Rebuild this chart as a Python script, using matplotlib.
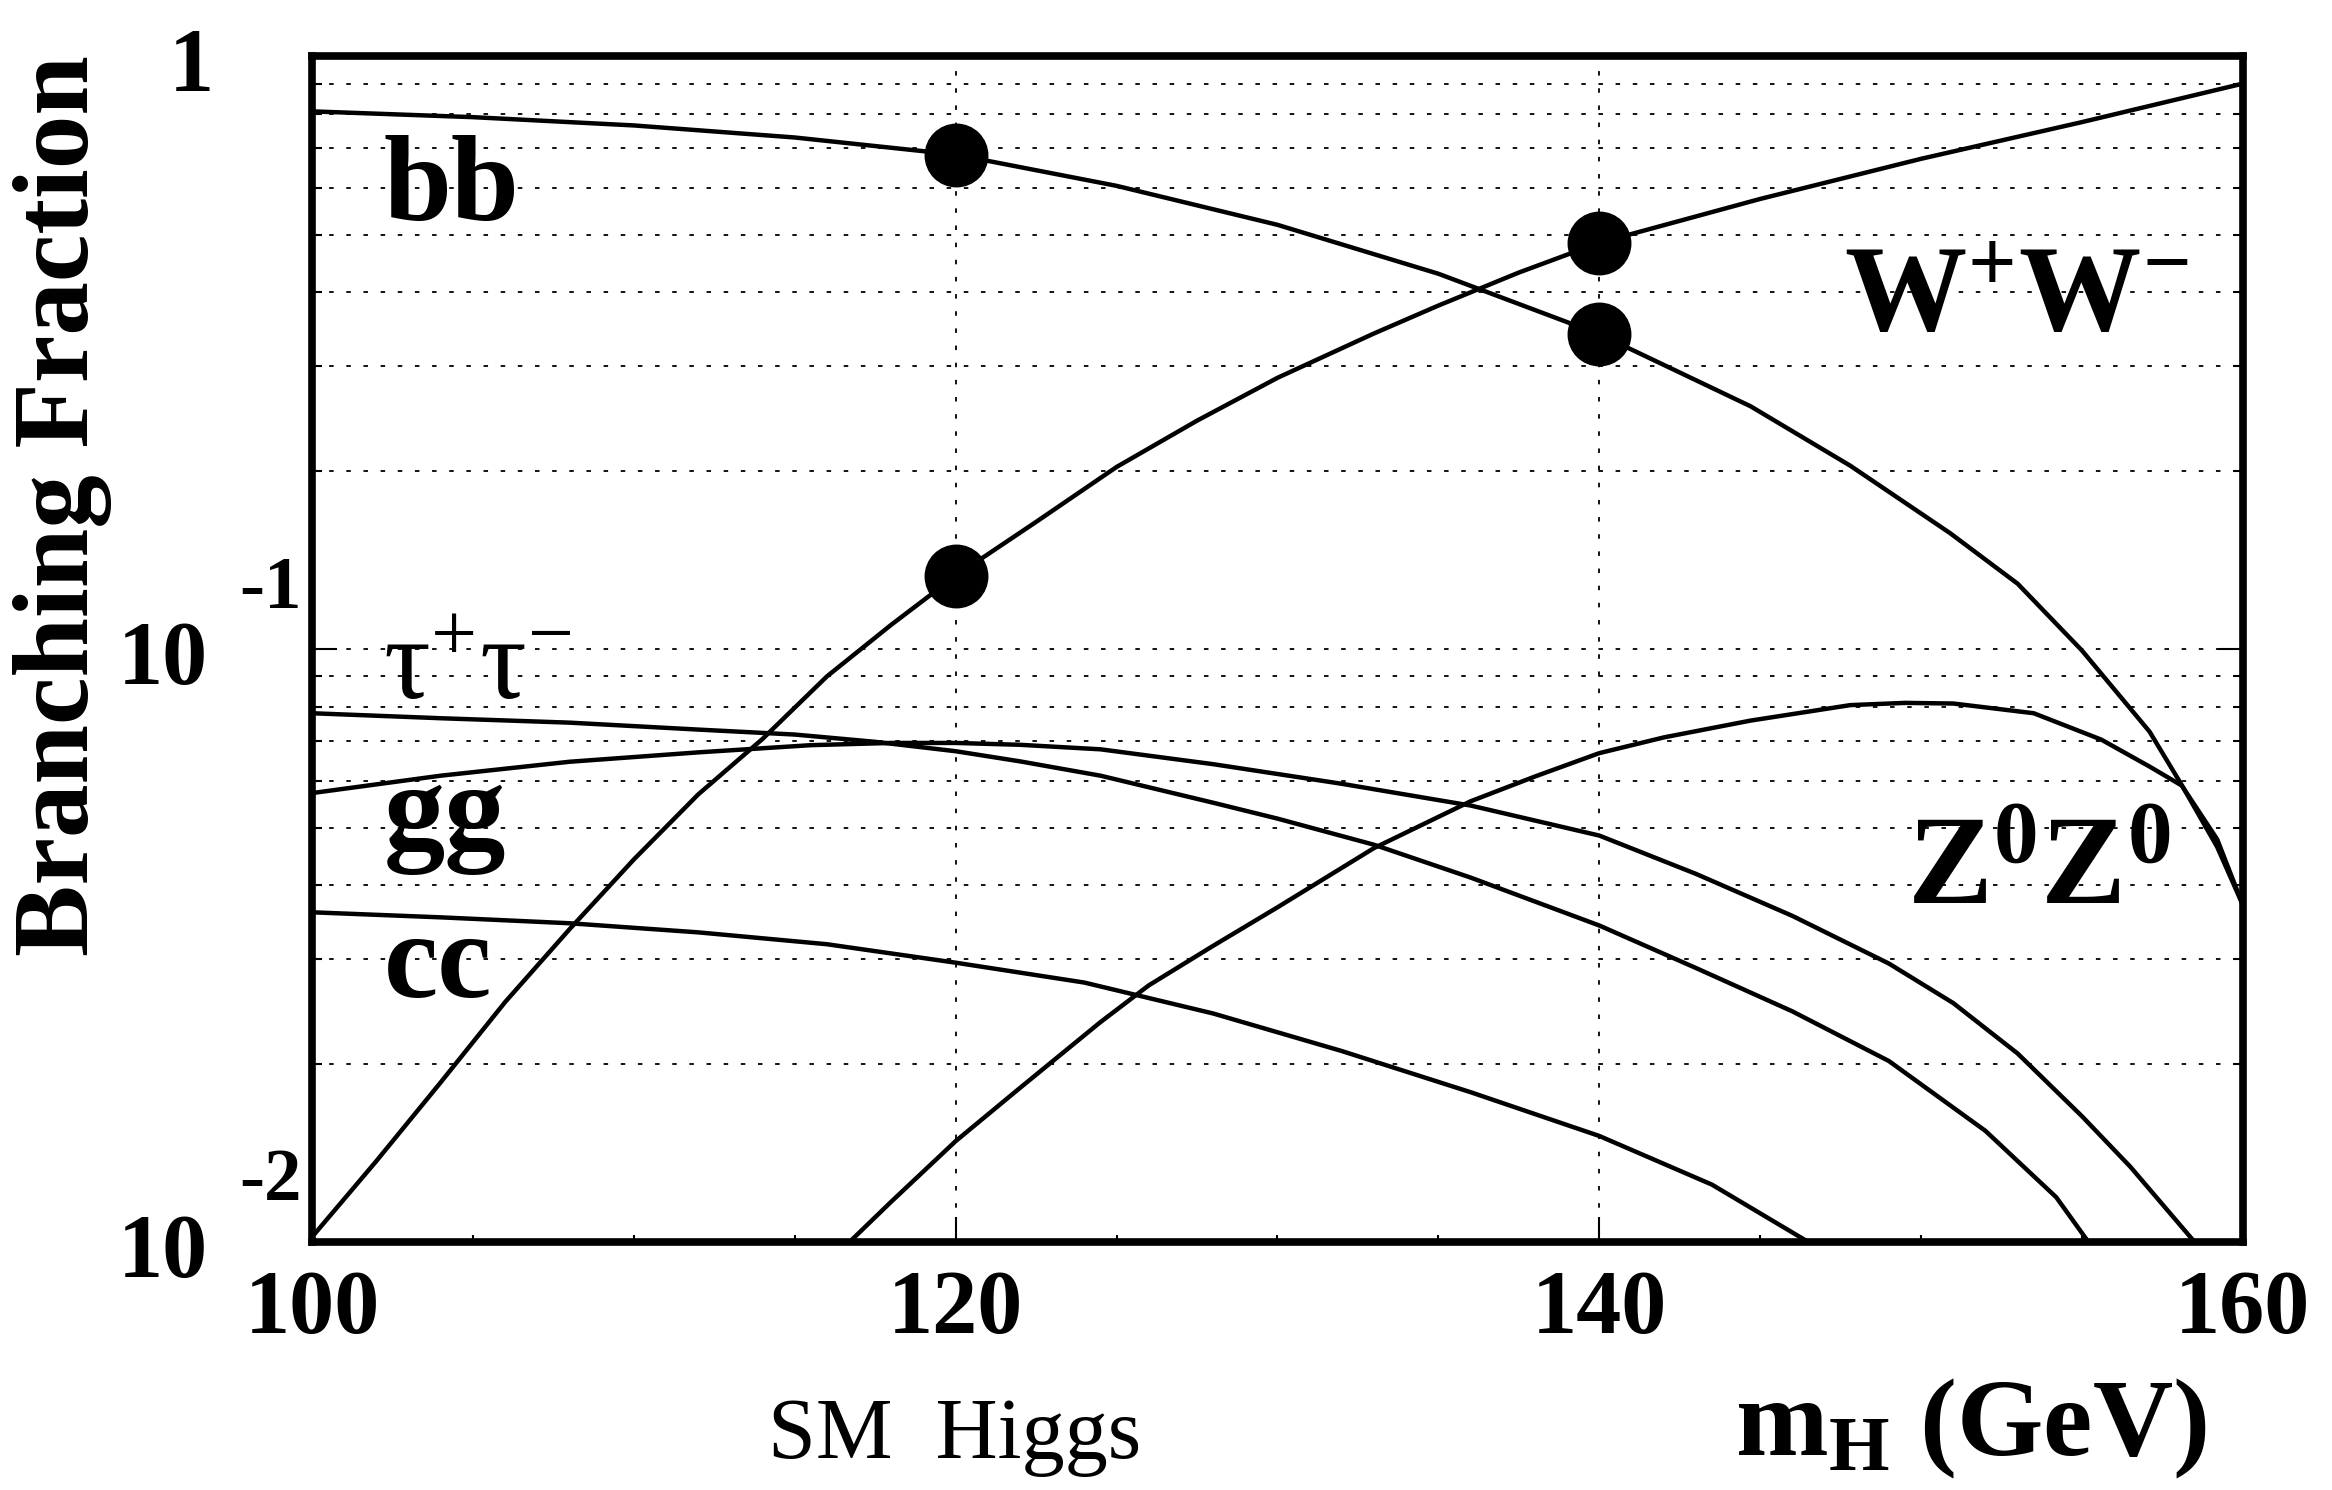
import matplotlib
matplotlib.use("Agg")
import matplotlib.pyplot as plt
import matplotlib.transforms as mtransforms
from matplotlib.ticker import FixedLocator, NullFormatter

# ---------------------------------------------------------------
# data (SM Higgs branching fractions)
# ---------------------------------------------------------------
bb_mass = [100, 105, 110, 115, 120, 125, 130, 135, 140, 142.5, 144.7, 147.8,
           150.9, 153, 155, 157.1, 158.1, 159.2, 160]
bb_br = [0.808, 0.79, 0.765, 0.73, 0.683, 0.605, 0.52, 0.43, 0.34, 0.293,
         0.257, 0.204, 0.157, 0.129, 0.0995, 0.0726, 0.059, 0.0464, 0.037]

ww_mass = [100, 102, 104, 106, 108, 110, 112, 114, 116, 118, 120, 122.5,
           125, 127.5, 130, 133, 135, 137.5, 140, 145, 150, 155, 160]
ww_br = [0.0102, 0.0137, 0.0186, 0.0254, 0.0337, 0.0442, 0.0569, 0.0706,
         0.090, 0.110, 0.133, 0.164, 0.203, 0.243, 0.287, 0.341, 0.38, 0.432,
         0.485, 0.575, 0.672, 0.775, 0.90]

zz_mass = [116.7, 118, 120, 122, 124.5, 126, 128, 130, 133, 136, 138, 140,
           142, 144.7, 147.8, 149.5, 151, 153.5, 155.6, 157.1, 158.1, 159.2,
           160]
zz_br = [0.0100, 0.0117, 0.0148, 0.0182, 0.0235, 0.0271, 0.0316, 0.0367,
         0.0462, 0.0554, 0.061, 0.0668, 0.071, 0.0758, 0.0805, 0.0812, 0.081,
         0.078, 0.0704, 0.0634, 0.0589, 0.0478, 0.037]

tautau_mass = [100, 104, 108, 112, 115, 117.5, 120, 122, 124.5, 128, 130, 133,
               136, 140, 143, 146, 149, 152, 154.2, 155.2]
tautau_br = [0.078, 0.0765, 0.0752, 0.0732, 0.0718, 0.0698, 0.0673, 0.0647,
             0.0612, 0.0551, 0.0518, 0.0468, 0.0412, 0.0342, 0.029, 0.0245,
             0.0202, 0.0154, 0.0119, 0.0100]

gg_mass = [100, 104, 108, 112, 115.5, 118, 120, 122, 124.5, 128, 132, 136,
           140, 143, 146, 149, 151, 153, 155, 156.5, 158.5]
gg_br = [0.0572, 0.0612, 0.0646, 0.067, 0.0689, 0.0695, 0.0695, 0.069,
         0.0678, 0.064, 0.0593, 0.0545, 0.0485, 0.0418, 0.0355, 0.0295,
         0.0253, 0.0208, 0.0163, 0.0134, 0.0100]

cc_mass = [100, 104, 108, 112, 116, 120, 124, 128, 132, 136, 140, 143.5, 146.5]
cc_br = [0.0360, 0.0353, 0.0345, 0.0333, 0.0318, 0.0296, 0.0274, 0.0243,
         0.0210, 0.0179, 0.0151, 0.0125, 0.0100]

# highlighted points at 120 and 140 GeV
dot_mass = [120, 120, 140, 140]
dot_br = [0.683, 0.133, 0.485, 0.34]

x_major = [100, 120, 140, 160]
x_minor = [105, 110, 115, 125, 130, 135, 145, 150, 155]
y_grid = [0.02, 0.03, 0.04, 0.05, 0.06, 0.07, 0.08, 0.09, 0.1,
          0.2, 0.3, 0.4, 0.5, 0.6, 0.7, 0.8, 0.9]

# ---------------------------------------------------------------
# style
# ---------------------------------------------------------------
plt.rcParams["font.family"] = ["Liberation Serif", "DejaVu Serif"]
plt.rcParams["mathtext.fontset"] = "custom"
plt.rcParams["mathtext.rm"] = "Liberation Serif"
plt.rcParams["mathtext.it"] = "Liberation Serif:italic"
plt.rcParams["mathtext.bf"] = "Liberation Serif:bold"

fig = plt.figure(figsize=(23.32, 14.90), dpi=100)
ax = fig.add_axes([0.1338, 0.1664, 0.828, 0.7957])
ax.set_yscale("log")
ax.set_xlim(100, 160)
ax.set_ylim(0.01, 1)

grid_kw = dict(color="black", lw=1.3, ls=(0, (2.5, 7)), zorder=1)
for v in y_grid:
    ax.axhline(v, **grid_kw)
for v in x_major[1:-1]:
    ax.axvline(v, **grid_kw)

line_kw = dict(color="black", lw=3.2, zorder=3, solid_joinstyle="round")
for m, br in [(bb_mass, bb_br), (ww_mass, ww_br), (zz_mass, zz_br),
              (tautau_mass, tautau_br), (gg_mass, gg_br), (cc_mass, cc_br)]:
    ax.plot(m, br, **line_kw)

ax.plot(dot_mass, dot_br, "o", color="black", ms=45, zorder=4)

# frame and ticks
for s in ax.spines.values():
    s.set_linewidth(5.5)
    s.set_zorder(6)
ax.xaxis.set_major_locator(FixedLocator(x_major))
ax.xaxis.set_minor_locator(FixedLocator(x_minor))
ax.yaxis.set_major_locator(FixedLocator([0.01, 0.1, 1]))
ax.yaxis.set_minor_locator(FixedLocator(y_grid))
ax.yaxis.set_major_formatter(NullFormatter())
ax.yaxis.set_minor_formatter(NullFormatter())
ax.xaxis.set_minor_formatter(NullFormatter())
ax.set_xticklabels([str(v) for v in x_major], fontsize=65, fontweight="bold")
ax.tick_params(axis="x", which="major", direction="in", length=18, width=1.5,
               pad=20)
ax.tick_params(axis="x", which="minor", direction="in", length=5, width=1.5)
ax.tick_params(axis="y", which="major", direction="in", length=18, width=1.5,
               right=True)
ax.tick_params(axis="y", which="minor", direction="in", length=7, width=1.5,
               right=True)

# y tick labels drawn by hand: "1", "10" with raised exponent
ytrans = mtransforms.blended_transform_factory(ax.transAxes, ax.transData)
ax.annotate("1", xy=(-0.0624, 1), xycoords=ytrans, xytext=(0, -9),
            textcoords="offset points", ha="center", va="center",
            fontsize=65, fontweight="bold", annotation_clip=False)
for val, exp in [(0.1, "-1"), (0.01, "-2")]:
    ax.annotate("10", xy=(-0.077, val), xycoords=ytrans, xytext=(0, -9),
                textcoords="offset points", ha="center", va="center",
                fontsize=65, fontweight="bold", annotation_clip=False)
    ax.annotate(exp, xy=(-0.0216, val), xycoords=ytrans, xytext=(0, 43),
                textcoords="offset points", ha="center", va="center",
                fontsize=54, fontweight="bold", annotation_clip=False)

ax.text(-0.1294, 0.621, "Branching Fraction", transform=ax.transAxes,
        rotation=90, ha="center", va="center", fontsize=77, fontweight="bold")
ax.text(0.333, -0.182, "SM  Higgs", transform=ax.transAxes, ha="center",
        va="baseline", fontsize=62)
ax.text(0.737, -0.179, r"$\mathbf{m}_{\mathbf{H}}$ (GeV)",
        transform=ax.transAxes, ha="left", va="baseline", fontsize=80,
        fontweight="bold")

# curve labels
lab_kw = dict(transform=ax.transAxes, ha="left", va="baseline", zorder=5)
ax.text(0.037, 0.862, "bb", fontsize=88, fontweight="bold", **lab_kw)
ax.text(0.037, 0.458, r"$\mathrm{τ}^{+}\mathrm{τ}^{-}$", fontsize=84, **lab_kw)
ax.text(0.037, 0.3325, "gg", fontsize=88, fontweight="bold", **lab_kw)
ax.text(0.037, 0.207, "cc", fontsize=88, fontweight="bold", **lab_kw)
ax.text(0.7935, 0.768, r"$\mathbf{W}^{\mathbf{+}}\mathbf{W}^{\mathbf{-}}$",
        fontsize=88, **lab_kw)
ax.text(0.826, 0.285, r"$\mathbf{Z}^{\mathbf{0}}\mathbf{Z}^{\mathbf{0}}$",
        fontsize=92, **lab_kw)

fig.savefig("out.png", dpi=100)
